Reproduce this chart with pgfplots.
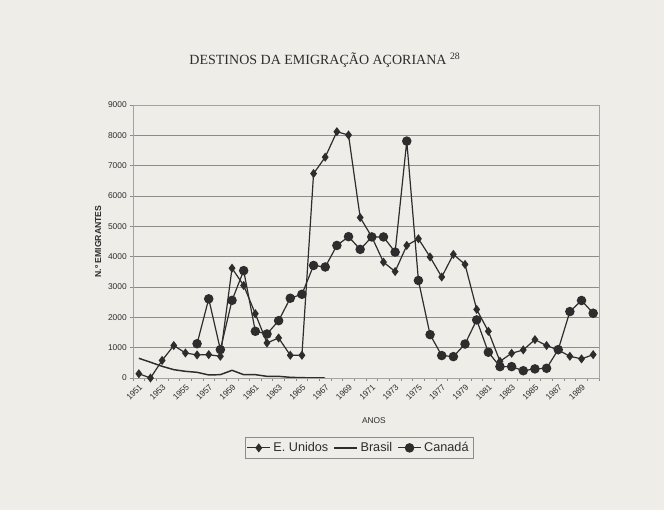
\documentclass[border=0pt]{standalone}
\usepackage{pgfplots}
\pgfplotsset{compat=1.18}
\usepackage{fontspec}
\setmainfont{Liberation Sans}
\newfontfamily\serif{Liberation Serif}
\definecolor{paper}{RGB}{239,237,232}
\definecolor{ink}{RGB}{45,45,45}
\definecolor{gridc}{RGB}{140,140,140}

\pgfplotstableread{
i val
0 140
1 0
2 580
3 1070
4 825
5 760
6 770
7 715
8 3620
9 3050
10 2120
11 1155
12 1320
13 750
14 750
15 6740
16 7280
17 8120
18 8010
19 5290
20 4650
21 3820
22 3510
23 4370
24 4590
25 3990
26 3330
27 4075
28 3745
29 2260
30 1540
31 550
32 815
33 925
34 1265
35 1070
36 925
37 715
38 630
39 770
}\usa

\pgfplotstableread{
i val
0 650
1 520
2 385
3 275
4 220
5 187
6 100
7 110
8 253
9 110
10 110
11 55
12 55
13 22
14 10
15 5
16 0
}\brasil

\pgfplotstableread{
i val
5 1130
6 2610
7 935
8 2560
9 3540
10 1540
11 1450
12 1890
13 2630
14 2760
15 3710
16 3660
17 4370
18 4660
19 4240
20 4650
21 4650
22 4150
23 7810
24 3215
25 1430
26 740
27 705
28 1120
29 1915
30 850
31 375
32 375
33 240
34 300
35 320
36 935
37 2190
38 2555
39 2135
}\canada

\begin{document}
\begin{tikzpicture}[x=1pt,y=1pt]
\fill[paper] (0,0) rectangle (498,382.5);
\useasboundingbox (0,0) rectangle (498,382.5);
\node[font=\serif\fontsize{10.5}{12}\selectfont, text=ink] at (243.75,337.5) {DESTINOS DA EMIGRAÇÃO AÇORIANA \textsuperscript{28}};
\begin{axis}[
  at={(99.75pt,99pt)}, anchor=south west, scale only axis,
  width=349.5pt, height=204.75pt,
  xmin=-0.5, xmax=39.5, ymin=0, ymax=9000,
  xtick={0,2,...,38},
  xticklabels={1951,1953,1955,1957,1959,1961,1963,1965,1967,1969,1971,1973,1975,1977,1979,1981,1983,1985,1987,1989},
  minor xtick={-0.5,0.5,...,39.5},
  every major x tick/.append style={draw=none},
  ytick={0,1000,...,9000},
  /pgf/number format/1000 sep={},
  /pgf/number format/assume math mode=true,
  tick pos=left, tick align=outside,
  major tick length=2.5pt, minor tick length=2.5pt,
  tick style={gridc, line width=0.5pt},
  ymajorgrids, grid style={gridc, line width=0.6pt},
  axis line style={gridc!80, line width=0.6pt},
  ticklabel style={font=\fontsize{6.3}{7}\selectfont, text=ink},
  xticklabel style={rotate=45, anchor=north east, inner sep=1pt},
  yticklabel style={inner sep=2pt},
  xlabel={ANOS},
  xlabel style={at={(axis description cs:0.517,-0.1575)}, anchor=center, font=\fontsize{6.3}{7}\selectfont, text=ink},
  ylabel={N.º EMIGRANTES},
  ylabel style={at={(axis description cs:-0.075,0.5)}, anchor=center, font=\bfseries\fontsize{6.5}{7}\selectfont, text=ink},
  legend columns=3,
  legend style={at={(axis description cs:0.485,-0.256)}, anchor=center, draw=gridc, fill=paper, font=\fontsize{9.5}{11}\selectfont, text=ink, inner sep=1.5pt, /tikz/every even column/.append style={column sep=2pt}},
  legend image code/.code={\draw[mark repeat=2,mark phase=2] plot coordinates {(0cm,0cm) (0.3cm,0cm) (0.6cm,0cm)};},
]
\addplot[ink, line width=0.9pt, mark=diamond*, mark size=2.7pt, mark options={fill=ink}] table[x=i,y=val] {\usa};
\addlegendentry{E. Unidos}
\addplot[ink, line width=1.1pt, mark=none] table[x=i,y=val] {\brasil};
\addlegendentry{Brasil}
\addplot[ink, line width=0.9pt, mark=*, mark size=3.1pt, mark options={fill=ink}] table[x=i,y=val] {\canada};
\addlegendentry{Canadá}
\end{axis}
\end{tikzpicture}
\end{document}
